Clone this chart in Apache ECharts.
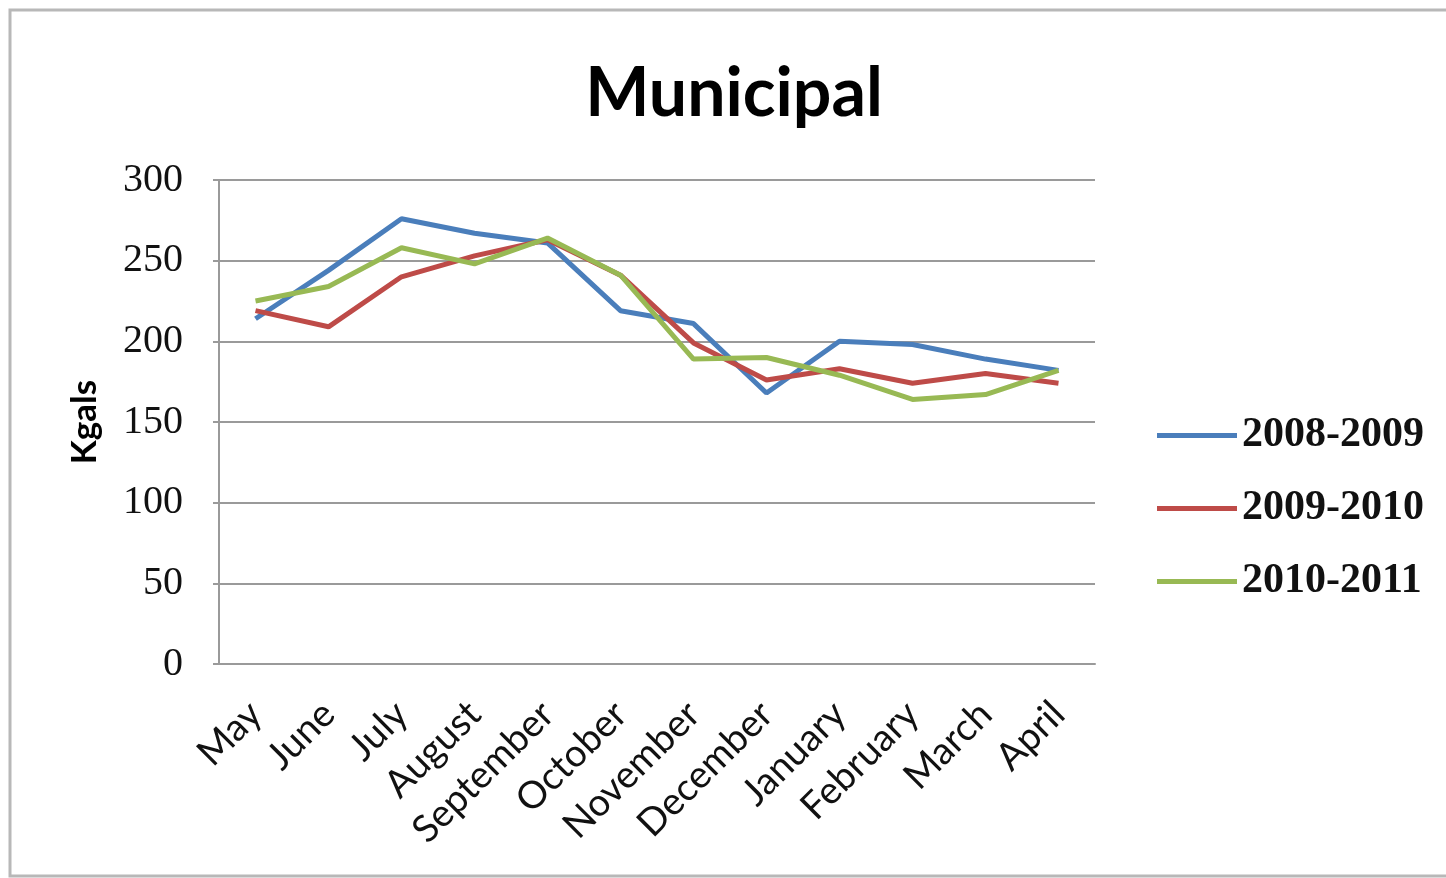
<!DOCTYPE html>
<html>
<head>
<meta charset="utf-8">
<style>
  html, body { margin: 0; padding: 0; background: #fff; }
  #chart { width: 1446px; height: 878px; }
</style>
<script src="https://cdn.jsdelivr.net/npm/echarts@6/dist/echarts.min.js"></script>
</head>
<body>
<div id="chart"></div>
<script>
// Monthly municipal water use, Kgals, by fiscal year (May–April)
const months = ['May', 'June', 'July', 'August', 'September', 'October',
                'November', 'December', 'January', 'February', 'March', 'April'];
const fy2008 = [214, 244, 276, 267, 261, 219, 211, 168, 200, 198, 189, 182];
const fy2009 = [219, 209, 240, 253, 263, 241, 199, 176, 183, 174, 180, 174];
const fy2010 = [225, 234, 258, 248, 264, 241, 189, 190, 179, 164, 167, 182];
const seriesNames = ['2008-2009', '2009-2010', '2010-2011'];
const yTicks = [0, 50, 100, 150, 200, 250, 300];

const colors = ['#4A7EBB', '#BE4B48', '#98B954'];
const serifFont = '"Liberation Serif", "DejaVu Serif", serif';
const sansFont = 'Lato, "Open Sans", sans-serif';

const chart = echarts.init(document.getElementById('chart'), null, { renderer: 'canvas' });

const lineSeries = [fy2008, fy2009, fy2010].map((data, i) => ({
  name: seriesNames[i],
  type: 'line',
  data: data,
  symbol: 'none',
  smooth: false,
  lineStyle: { width: 5, color: colors[i] },
  itemStyle: { color: colors[i] },
  z: 3 + i
}));

chart.setOption({
  backgroundColor: '#fff',
  animation: false,
  // outer frame of the chart area (runs past the right edge of the page)
  graphic: [{
    type: 'rect',
    shape: { x: 10, y: 10, width: 1450, height: 866 },
    style: { fill: 'none', stroke: '#b8b8b8', lineWidth: 3 },
    silent: true
  }],
  title: {
    text: 'Municipal',
    left: 729,
    top: 55,
    textAlign: 'center',
    textStyle: { fontFamily: sansFont, fontWeight: 'bold', fontSize: 68, color: '#000' }
  },
  legend: {
    orient: 'vertical',
    left: 1152,
    top: 409,
    itemGap: 30,
    itemWidth: 80,
    itemHeight: 5,
    icon: 'rect',
    textStyle: { fontFamily: serifFont, fontWeight: 'bold', fontSize: 42, color: '#111', lineHeight: 43 },
    data: seriesNames
  },
  grid: { left: 219, right: 351, top: 180, bottom: 214, containLabel: false },
  xAxis: {
    type: 'category',
    data: months,
    boundaryGap: true,
    axisLine: { show: true, lineStyle: { color: '#9a9a9a', width: 2 } },
    axisTick: { show: false },
    axisLabel: {
      rotate: 45,
      margin: 44,
      interval: 0,
      fontFamily: sansFont,
      fontSize: 38,
      color: '#111'
    }
  },
  yAxis: {
    type: 'value',
    min: yTicks[0],
    max: yTicks[yTicks.length - 1],
    interval: 50,
    name: 'Kgals',
    nameLocation: 'middle',
    nameGap: 117,
    nameRotate: 90,
    nameTextStyle: { fontFamily: sansFont, fontWeight: 'bold', fontSize: 35, color: '#000' },
    axisLine: { show: true, lineStyle: { color: '#9a9a9a', width: 2 } },
    axisTick: { show: true, length: 6, lineStyle: { color: '#9a9a9a', width: 2 } },
    axisLabel: {
      margin: 36,
      fontFamily: serifFont,
      fontSize: 40,
      color: '#111'
    },
    splitLine: { show: true, lineStyle: { color: '#9a9a9a', width: 2 } }
  },
  series: lineSeries
});
</script>
</body>
</html>
